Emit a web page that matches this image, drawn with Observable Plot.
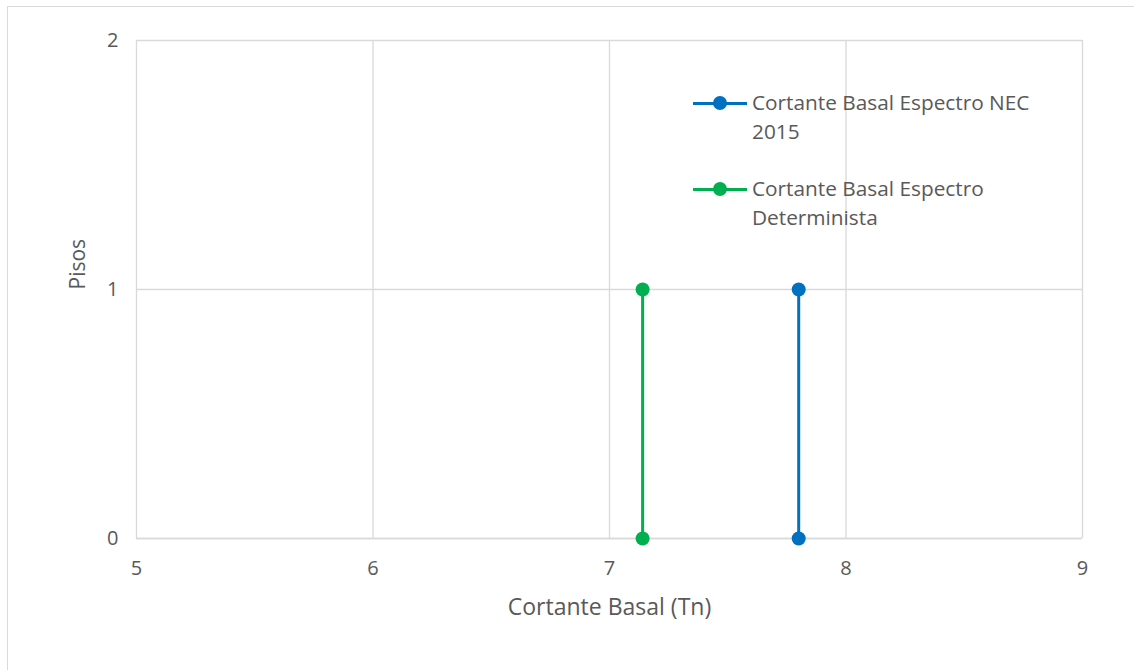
<!DOCTYPE html>
<html><head><meta charset="utf-8">
<script src="https://cdn.jsdelivr.net/npm/d3@7"></script>
<script src="https://cdn.jsdelivr.net/npm/@observablehq/plot@0.6"></script>
<style>
body{margin:0;background:#fff;font-family:"Open Sans",sans-serif;}
#wrap{position:relative;width:1134px;height:670px;overflow:hidden;}
#border{position:absolute;left:7px;top:6px;width:1140px;height:700px;border:1px solid #d9d9d9;box-sizing:border-box;}
#chart{position:absolute;left:0;top:0;}
.leg{position:absolute;left:693px;font-size:20.8px;color:#595959;line-height:29px;}
.leg .sw{position:absolute;left:0;top:13px;width:54px;height:3px;}
.leg .dot{position:absolute;left:20px;top:7px;width:14px;height:14px;border-radius:50%;}
.leg .tx{position:absolute;left:59px;top:-1px;width:360px;}
</style></head>
<body><div id="wrap"><div id="border"></div><div id="chart"></div>
<div class="leg" style="top:89px"><div class="sw" style="background:#0070C0"></div><div class="dot" style="background:#0070C0"></div><div class="tx">Cortante Basal Espectro NEC<br>2015</div></div>
<div class="leg" style="top:175px"><div class="sw" style="background:#00B050"></div><div class="dot" style="background:#00B050"></div><div class="tx">Cortante Basal Espectro<br>Determinista</div></div>
</div>
<script>
const seriesNames = ["Cortante Basal Espectro NEC 2015", "Cortante Basal Espectro Determinista"];
const seriesColors = ["#0070C0", "#00B050"];
const pisos = [0, 1];
const necValues = [7.80, 7.80];
const detValues = [7.14, 7.14];
const xTicks = [5, 6, 7, 8, 9];
const yTicks = [0, 1, 2];

const data = [
  ...pisos.map((p, i) => ({serie: seriesNames[0], x: necValues[i], y: p})),
  ...pisos.map((p, i) => ({serie: seriesNames[1], x: detValues[i], y: p}))
];

const chart = Plot.plot({
  width: 1134, height: 670,
  marginLeft: 136, marginRight: 52, marginTop: 40, marginBottom: 132,
  style: {fontFamily: "'Open Sans', sans-serif", fontSize: "20px", color: "#595959", background: "transparent"},
  x: {domain: [5, 9], ticks: xTicks, tickFormat: "d", label: null},
  y: {domain: [0, 2], ticks: yTicks, tickFormat: "d", label: null},
  color: {domain: seriesNames, range: seriesColors},
  marks: [
    Plot.gridX(xTicks, {stroke: "#d9d9d9", strokeOpacity: 1, strokeWidth: 1.3}),
    Plot.gridY(yTicks, {stroke: "#d9d9d9", strokeOpacity: 1, strokeWidth: 1.3}),
    Plot.ruleY([0], {stroke: "#d9d9d9", strokeWidth: 1.3}),
    Plot.axisX(xTicks, {tickSize: 0, tickPadding: 22, tickFormat: "d", fontSize: 20, fill: "#595959"}),
    Plot.axisY(yTicks, {tickSize: 0, tickPadding: 18, tickFormat: "d", fontSize: 20, fill: "#595959"}),
    Plot.text(["Cortante Basal (Tn)"], {frameAnchor: "bottom", dy: 76, fontSize: 23, fill: "#595959"}),
    Plot.text(["Pisos"], {frameAnchor: "left", dx: -58, rotate: -90, fontSize: 21, fill: "#595959"}),
    Plot.line(data, {x: "x", y: "y", z: "serie", stroke: "serie", strokeWidth: 3}),
    Plot.dot(data, {x: "x", y: "y", fill: "serie", r: 7})
  ]
});
document.getElementById("chart").appendChild(chart);
</script></body></html>
